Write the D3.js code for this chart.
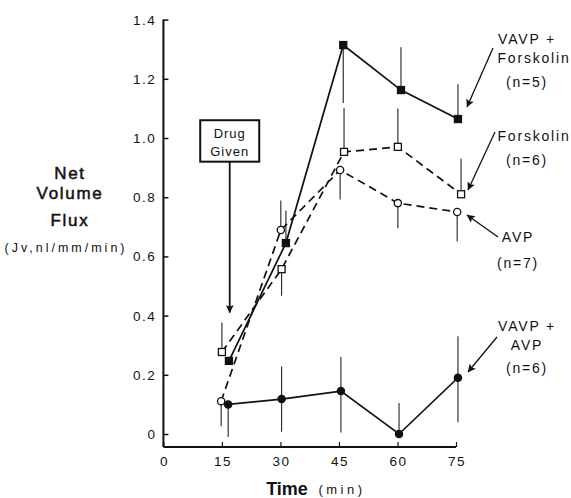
<!DOCTYPE html>
<html><head><meta charset="utf-8">
<script src="https://cdn.jsdelivr.net/npm/d3@7"></script>
<style>
body{margin:0;background:#fff;}
text{font-family:"Liberation Sans",Arial,Helvetica,sans-serif;fill:#111;}
</style></head>
<body><svg id="c" width="571" height="498"></svg>
<script>
// ---- data ----
const xTicks = [0, 15, 30, 45, 60, 75];
const yTicks = [0, 0.2, 0.4, 0.6, 0.8, 1.0, 1.2, 1.4];
const yTickLabels = ["0", "0.2", "0.4", "0.6", "0.8", "1.0", "1.2", "1.4"];

// VAVP + Forskolin (n=5): filled squares, solid
const vfTime = [16.8, 31.4, 46.1, 60.9, 75.5];
const vfValue = [0.247, 0.645, 1.314, 1.162, 1.064];
const vfErrUp = [0, 0.11, 0, 0.145, 0.118];
const vfErrDown = [0, 0, 0.196, 0, 0];

// Forskolin (n=6): open squares, dashed
const fTime = [15.0, 30.3, 46.3, 60.1, 76.3];
const fValue = [0.277, 0.557, 0.953, 0.970, 0.810];
const fErrUp = [0.10, 0, 0.148, 0.13, 0.12];
const fErrDown = [0, 0.09, 0, 0, 0];

// AVP (n=7): open circles, dashed
const aTime = [14.8, 30.1, 45.3, 60.1, 75.3];
const aValue = [0.111, 0.689, 0.892, 0.780, 0.750];
const aErrUp = [0, 0.10, 0, 0, 0];
const aErrDown = [0.085, 0, 0.10, 0.085, 0.10];

// VAVP + AVP (n=6): filled circles, solid
const vaTime = [16.6, 30.3, 45.5, 60.4, 75.5];
const vaValue = [0.100, 0.118, 0.145, 0.0, 0.190];
const vaErrUp = [0, 0.11, 0.115, 0.105, 0.14];
const vaErrDown = [0.11, 0.11, 0.14, 0, 0.15];

// ---- drawing ----
const svg = d3.select("#c");
const x = d3.scaleLinear().domain([0, 75]).range([163.4, 456]);
const y = d3.scaleLinear().domain([0, 1.4]).range([434, 19.6]);
const yBottom = -0.044;

const series = [
  {t: vfTime, v: vfValue, up: vfErrUp, dn: vfErrDown, dash: null, marker: "square", fill: "#111"},
  {t: fTime, v: fValue, up: fErrUp, dn: fErrDown, dash: "8,5", marker: "square", fill: "#fff"},
  {t: aTime, v: aValue, up: aErrUp, dn: aErrDown, dash: "8,5", marker: "circle", fill: "#fff"},
  {t: vaTime, v: vaValue, up: vaErrUp, dn: vaErrDown, dash: null, marker: "circle", fill: "#111"}
];

// axes
const yAxis = d3.axisRight(y).tickValues(yTicks).tickSize(5).tickFormat("");
const gy = svg.append("g").attr("transform", `translate(${x(0)},0)`).call(yAxis);
gy.select(".domain").remove();
svg.append("line").attr("x1", x(0)).attr("x2", x(0)).attr("y1", y(1.4)).attr("y2", y(yBottom))
  .attr("stroke", "#111").attr("stroke-width", 2);
gy.selectAll(".tick line").attr("stroke", "#111").attr("stroke-width", 1.5);
svg.selectAll(".ylab").data(yTicks).enter().append("text")
  .attr("x", x(0) - 7).attr("y", d => y(d) + 5)
  .attr("text-anchor", "end").style("font-size", "13.5px").style("letter-spacing", "1.5px")
  .text((d, i) => yTickLabels[i]);

const xAxis = d3.axisTop(x).tickValues(xTicks).tickSize(5).tickFormat("");
const gx = svg.append("g").attr("transform", `translate(0,${y(yBottom)})`).call(xAxis);
gx.select(".domain").remove();
gx.selectAll(".tick line").attr("stroke", "#111").attr("stroke-width", 1.2);
svg.append("line").attr("x1", x(0)).attr("x2", x(75)).attr("y1", y(yBottom)).attr("y2", y(yBottom))
  .attr("stroke", "#111").attr("stroke-width", 2);
svg.selectAll(".xlab").data(xTicks).enter().append("text")
  .attr("x", d => x(d) + 1).attr("y", y(yBottom) + 19)
  .attr("text-anchor", "middle").style("font-size", "13.5px").style("letter-spacing", "1.5px")
  .text(d => d);

// axis titles
svg.append("text").attr("x", 287).attr("y", 495).attr("text-anchor", "middle")
  .style("font-size", "18px").style("font-weight", "bold").text("Time");
svg.append("text").attr("x", 342).attr("y", 494).attr("text-anchor", "middle")
  .style("font-size", "13px").style("letter-spacing", "3.5px").text("(min)");

const yTitle = [["Net", 179], ["Volume", 199], ["Flux", 226]];
yTitle.forEach(([s, yy]) => svg.append("text").attr("x", 70).attr("y", yy).attr("text-anchor", "middle")
  .style("font-size", "17px").style("letter-spacing", "1.7px")
  .attr("stroke", "#111").attr("stroke-width", 0.5).text(s));
svg.append("text").attr("x", 66).attr("y", 252).attr("text-anchor", "middle")
  .style("font-size", "12.5px").style("letter-spacing", "3px").text("(Jv,nl/mm/min)");

// error bars
series.forEach(s => {
  s.t.forEach((t, i) => {
    const hi = s.v[i] + s.up[i], lo = s.v[i] - s.dn[i];
    if (hi === lo) return;
    svg.append("line").attr("x1", x(t)).attr("x2", x(t)).attr("y1", y(hi)).attr("y2", y(lo))
      .attr("stroke", "#222").attr("stroke-width", 1.1);
  });
});

// lines
const line = d3.line().x(d => x(d[0])).y(d => y(d[1]));
series.forEach(s => {
  svg.append("path").datum(s.t.map((t, i) => [t, s.v[i]]))
    .attr("d", line).attr("fill", "none").attr("stroke", "#111").attr("stroke-width", 1.7)
    .attr("stroke-dasharray", s.dash);
});

// markers
series.forEach(s => {
  s.t.forEach((t, i) => {
    if (s.marker === "square") {
      svg.append("rect").attr("x", x(t) - 3.5).attr("y", y(s.v[i]) - 3.5).attr("width", 7).attr("height", 7)
        .attr("fill", s.fill).attr("stroke", "#111").attr("stroke-width", 1.3);
    } else {
      svg.append("circle").attr("cx", x(t)).attr("cy", y(s.v[i])).attr("r", 3.6)
        .attr("fill", s.fill).attr("stroke", "#111").attr("stroke-width", 1.3);
    }
  });
});

// arrow marker (long, slender head)
svg.append("defs").append("marker").attr("id", "ah2").attr("viewBox", "0 0 10 10")
  .attr("refX", 9.5).attr("refY", 5).attr("markerWidth", 15).attr("markerHeight", 8)
  .attr("markerUnits", "userSpaceOnUse").attr("orient", "auto")
  .append("path").attr("d", "M0,0 L10,5 L0,10 L2,5 Z").attr("fill", "#111");

// Drug Given box
const bx = x(17);
svg.append("rect").attr("x", bx - 29.5).attr("y", y(1.06)).attr("width", 59).attr("height", y(0.92) - y(1.06))
  .attr("fill", "#fff").attr("stroke", "#111").attr("stroke-width", 2);
svg.append("text").attr("x", bx).attr("y", y(1.06) + 18).attr("text-anchor", "middle")
  .style("font-size", "13px").style("letter-spacing", "1px").text("Drug");
svg.append("text").attr("x", bx).attr("y", y(1.06) + 36).attr("text-anchor", "middle")
  .style("font-size", "13px").style("letter-spacing", "1px").text("Given");
svg.append("line").attr("x1", bx).attr("x2", bx).attr("y1", y(0.92)).attr("y2", y(0.41))
  .attr("stroke", "#111").attr("stroke-width", 1.8).attr("marker-end", "url(#ah2)");

// right-hand labels
const labels = [
  {lines: [["VAVP +", 527, 44], ["Forskolin", 534, 63], ["(n=5)", 527, 87]], arrow: [493, 48, 467, 107]},
  {lines: [["Forskolin", 534, 141], ["(n=6)", 527, 165]], arrow: [495, 132, 468, 190]},
  {lines: [["AVP", 518, 242], ["(n=7)", 518, 268]], arrow: [498, 237, 467, 215]},
  {lines: [["VAVP +", 527, 331], ["AVP", 527, 350], ["(n=6)", 527, 373]], arrow: [497, 337, 468, 372]}
];
labels.forEach(l => {
  l.lines.forEach(([s, xx, yy]) => svg.append("text").attr("x", xx).attr("y", yy).attr("text-anchor", "middle")
    .style("font-size", "14px").style("letter-spacing", "1.8px").text(s));
  const a = l.arrow;
  svg.append("line").attr("x1", a[0]).attr("y1", a[1]).attr("x2", a[2]).attr("y2", a[3])
    .attr("stroke", "#111").attr("stroke-width", 1.3).attr("marker-end", "url(#ah2)");
});
</script></body></html>
